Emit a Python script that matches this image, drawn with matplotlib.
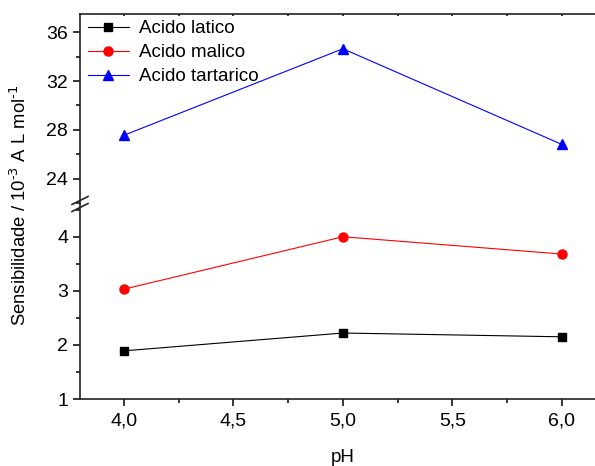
import numpy as np
import matplotlib.pyplot as plt
from matplotlib.ticker import MultipleLocator, FuncFormatter
from matplotlib.lines import Line2D

plt.rcParams['font.family'] = ['Liberation Sans', 'DejaVu Sans']

# Sensibilidade em funcao do pH
ph = [4.0, 5.0, 6.0]
latico = [1.89, 2.22, 2.15]
malico = [3.03, 4.00, 3.68]
tartarico = [27.55, 34.65, 26.80]

fig = plt.figure(figsize=(5.95, 4.66), dpi=100)

left, width = 80 / 595, 525.8 / 595
ax_up = fig.add_axes([left, 1 - 203 / 466, width, (203 - 14) / 466])
ax_lo = fig.add_axes([left, 1 - 399 / 466, width, (399 - 207) / 466])

lw = 0.8
ax_lo.plot(ph, latico, '-s', color='black', lw=lw, ms=6, label='Acido latico')
ax_lo.plot(ph, malico, '-o', color='red', lw=lw, ms=6.5, label='Acido malico')
ax_up.plot(ph, tartarico, '-^', color='blue', lw=lw, ms=7.5, label='Acido tartarico')

for ax in (ax_up, ax_lo):
    ax.set_xlim(3.8, 6.2)
    ax.spines['right'].set_visible(False)
    for s in ax.spines.values():
        s.set_linewidth(1.2)
        s.set_color('#222222')
    ax.tick_params(which='major', direction='out', length=5, width=1.1, labelsize=14)
    ax.tick_params(which='minor', direction='out', length=3, width=1.1)
    ax.xaxis.set_major_locator(MultipleLocator(0.5))
    ax.xaxis.set_minor_locator(MultipleLocator(0.25))

ax_up.set_ylim(22, 37.5)
ax_up.yaxis.set_major_locator(MultipleLocator(4))
ax_up.yaxis.set_minor_locator(MultipleLocator(2))
ax_up.spines['bottom'].set_visible(False)
ax_up.tick_params(axis='x', which='both', bottom=False, labelbottom=False,
                  top=True, direction='in', length=1.5)

ax_lo.set_ylim(1, 4.55)
ax_lo.yaxis.set_major_locator(MultipleLocator(1))
ax_lo.yaxis.set_minor_locator(MultipleLocator(0.5))
ax_lo.spines['top'].set_visible(False)
ax_lo.xaxis.set_major_formatter(FuncFormatter(lambda v, p: f'{v:.1f}'.replace('.', ',')))
ax_lo.tick_params(axis='x', pad=5)

# quebra do eixo y
x0 = 80 / 595
fig.add_artist(Line2D([x0, x0], [1 - 207 / 466, 1 - 203 / 466], transform=fig.transFigure,
                      color='#222222', lw=1.2))
for yy in (200.5, 207.5):
    fig.add_artist(Line2D([x0 - 8 / 595, x0 + 8 / 595],
                          [1 - (yy + 4) / 466, 1 - (yy - 4) / 466],
                          transform=fig.transFigure, color='#222222', lw=1.2))

h1, l1 = ax_lo.get_legend_handles_labels()
h2, l2 = ax_up.get_legend_handles_labels()
ax_up.legend(h1 + h2, l1 + l2, loc='upper left', frameon=False, fontsize=13.5,
             handlelength=2.2, handletextpad=0.55, labelspacing=0.36,
             borderaxespad=0.0, borderpad=0.3, bbox_to_anchor=(0.004, 0.997))

fig.text(20 / 595, 1 - 205 / 466,
         r'Sensibilidade / 10$^{\text{-3}}$ A L mol$^{\text{-1}}$',
         rotation=90, ha='center', va='center', fontsize=13.3)
fig.text(343 / 595, 1 - 457 / 466, 'pH', ha='center', va='center', fontsize=13.5)

fig.savefig('out.png', dpi=100)
